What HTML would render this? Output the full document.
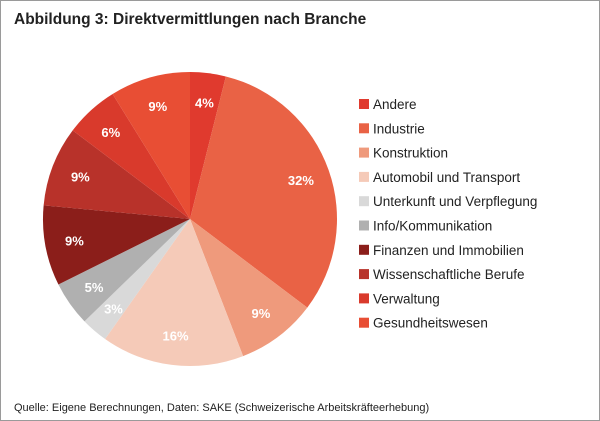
<!DOCTYPE html>
<html><head><meta charset="utf-8"><style>
body{margin:0;background:#fff;font-family:"Liberation Sans",sans-serif}
#c{position:relative;width:600px;height:421px;overflow:hidden}
</style></head><body>
<div id="c">
<svg width="600" height="421" id="svg">
<rect x="0.5" y="0.5" width="599" height="420" fill="#fff" stroke="#9a9a9a"/>
<text x="14" y="24" font-size="15.5" font-weight="bold" fill="#222">Abbildung 3: Direktvermittlungen nach Branche</text>
<text x="14" y="411" font-size="11" fill="#222">Quelle: Eigene Berechnungen, Daten: SAKE (Schweizerische Arbeitskräfteerhebung)</text>
<g id="pie"></g><g id="legend"></g>
</svg></div>
<script>
const categories=["Andere","Industrie","Konstruktion","Automobil und Transport","Unterkunft und Verpflegung","Info/Kommunikation","Finanzen und Immobilien","Wissenschaftliche Berufe","Verwaltung","Gesundheitswesen"];
const values=[4,32,9,16,3,5,9,9,6,9];
const labels=["4%","32%","9%","16%","3%","5%","9%","9%","6%","9%"];
const colors=["#e03a2e","#e96245","#ef9a7c","#f5cab8","#d9d9d9","#b0b0b0","#8b1e1a","#b8322a","#d93a2c","#e84e34"];
const NS="http://www.w3.org/2000/svg";
const cx=190,cy=219,r=147;
const total=values.reduce((a,b)=>a+b,0);
const pie=document.getElementById('pie'),leg=document.getElementById('legend');
function pt(a,rr){return [cx+rr*Math.sin(a),cy-rr*Math.cos(a)];}
let acc=0;
values.forEach((v,i)=>{
 const a0=acc/total*2*Math.PI;acc+=v;const a1=acc/total*2*Math.PI;
 const p0=pt(a0,r),p1=pt(a1,r);
 const path=document.createElementNS(NS,'path');
 path.setAttribute('d',`M${cx},${cy}L${p0[0]},${p0[1]}A${r},${r} 0 ${a1-a0>Math.PI?1:0} 1 ${p1[0]},${p1[1]}Z`);
 path.setAttribute('fill',colors[i]);
 
 
 pie.appendChild(path);
 const am=(a0+a1)/2,lp=pt(am,r*0.8);
 const t=document.createElementNS(NS,'text');
 t.setAttribute('x',lp[0]);t.setAttribute('y',lp[1]+5);
 t.setAttribute('text-anchor','middle');t.setAttribute('font-size','13');
 t.setAttribute('font-weight','bold');t.setAttribute('fill','#fff');
 t.textContent=labels[i];
 
 
 pie.appendChild(t);
 const y=104+i*24.3;
 const s=document.createElementNS(NS,'rect');
 s.setAttribute('x',359);s.setAttribute('y',y-5);s.setAttribute('width',10);s.setAttribute('height',10);
 s.setAttribute('fill',colors[i]);
 
 
 leg.appendChild(s);
 const lt=document.createElementNS(NS,'text');
 lt.setAttribute('x',373);lt.setAttribute('y',y+5);lt.setAttribute('font-size','13.5');lt.setAttribute('fill','#222');
 lt.textContent=categories[i];
 
 
 leg.appendChild(lt);
});
</script>
</body></html>
